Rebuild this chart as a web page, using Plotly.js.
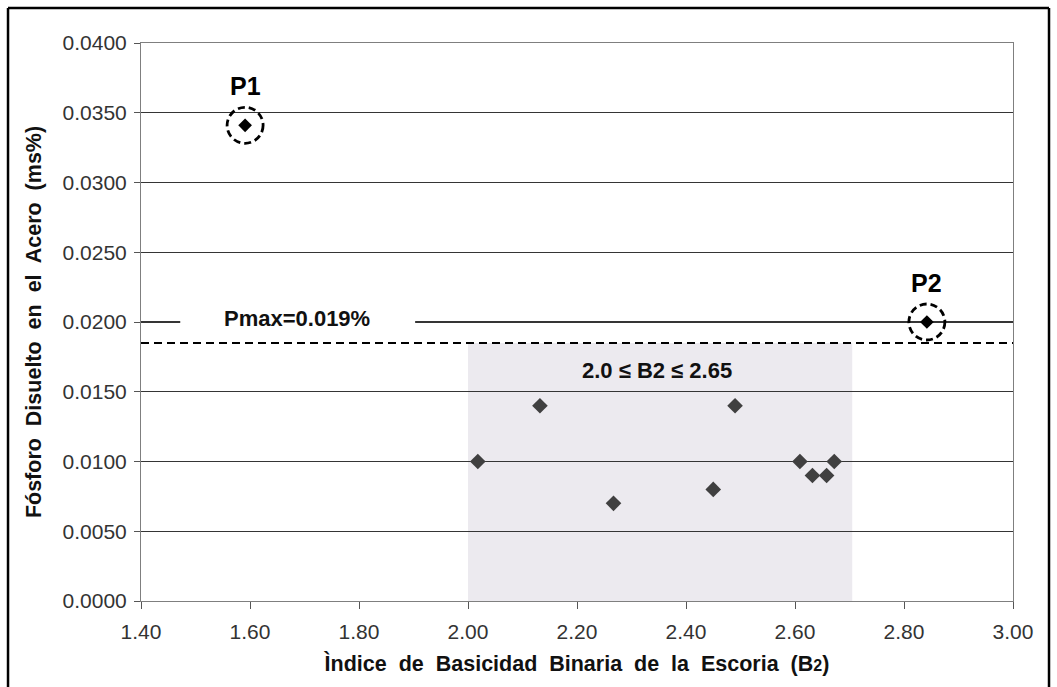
<!DOCTYPE html>
<html><head><meta charset="utf-8">
<script src="https://cdn.plot.ly/plotly-3.0.1.min.js"></script>
<style>html,body{margin:0;padding:0;background:#fff;}#chart{width:1057px;height:687px;}</style>
</head><body><div id="chart"></div>
<script>
// Data
const basicity = [2.018, 2.132, 2.267, 2.450, 2.490, 2.609, 2.632, 2.658, 2.672];
const phosphorus = [0.0100, 0.0140, 0.0070, 0.0080, 0.0140, 0.0100, 0.0090, 0.0090, 0.0100];
const outlierNames = ["P1", "P2"];
const outlierX = [1.591, 2.842];
const outlierY = [0.0341, 0.0200];
const pmax = 0.0185;
const pmaxLabel = "Pmax=0.019%";
const rangeLow = 2.0, rangeHigh = 2.705;
const rangeLabel = "2.0 ≤ B2 ≤ 2.65";
const xTicks = [1.4, 1.6, 1.8, 2.0, 2.2, 2.4, 2.6, 2.8, 3.0];
const yTicks = [0, 0.005, 0.01, 0.015, 0.02, 0.025, 0.03, 0.035, 0.04];

const font = "Liberation Sans, Arial, sans-serif";

const traces = [
  {x: basicity, y: phosphorus, type: 'scatter', mode: 'markers',
   marker: {symbol: 'diamond', size: 12, color: '#404040'}, hoverinfo: 'x+y'},
  {x: outlierX, y: outlierY, type: 'scatter', mode: 'markers',
   marker: {symbol: 'diamond', size: 10.5, color: '#000'}, hoverinfo: 'x+y'}
];

const shapes = [
  {type: 'rect', xref: 'x', yref: 'y', x0: rangeLow, x1: rangeHigh, y0: 0, y1: pmax,
   fillcolor: '#eceaef', line: {width: 0}, layer: 'below'},
  {type: 'line', xref: 'paper', yref: 'y', x0: 0, x1: 1, y0: pmax, y1: pmax,
   line: {color: '#000', width: 2, dash: '8px,5px'}},
  {type: 'rect', xref: 'x', yref: 'y', x0: 1.472, x1: 1.903, y0: 0.0193, y1: 0.0207,
   fillcolor: '#fff', line: {width: 0}, layer: 'above'}
];
outlierX.forEach((x, i) => {
  shapes.push({type: 'circle', xref: 'x', yref: 'y', xsizemode: 'pixel', ysizemode: 'pixel',
    xanchor: x, yanchor: outlierY[i], x0: -18, x1: 18, y0: -18, y1: 18,
    line: {color: '#000', width: 2.8, dash: '7px,4px'}});
});
// outer frame (left, top, right)
shapes.push({type: 'line', xref: 'paper', yref: 'paper', x0: -0.1525, x1: -0.1525, y0: -0.2, y1: 1.0627, line: {color: '#000', width: 2.5}});
shapes.push({type: 'line', xref: 'paper', yref: 'paper', x0: -0.1525, x1: 1.0413, y0: 1.0627, y1: 1.0627, line: {color: '#000', width: 2.5}});
shapes.push({type: 'line', xref: 'paper', yref: 'paper', x0: 1.0413, x1: 1.0413, y0: -0.2, y1: 1.0627, line: {color: '#000', width: 2.5}});

const annotations = [
  {x: 1.686, y: 0.0200, xref: 'x', yref: 'y', text: '<b>' + pmaxLabel + '</b>', showarrow: false,
   yshift: 4, font: {family: font, size: 22, color: '#111'}},
  {x: 2.347, y: 0.0167, xref: 'x', yref: 'y', text: '<b>' + rangeLabel + '</b>', showarrow: false,
   yshift: -2, font: {family: font, size: 22, color: '#111'}}
];
outlierNames.forEach((n, i) => {
  annotations.push({x: outlierX[i], y: outlierY[i], xref: 'x', yref: 'y', text: '<b>' + n + '</b>',
    showarrow: false, yshift: 39, font: {family: font, size: 25, color: '#000'}});
});

const layout = {
  width: 1057, height: 687,
  margin: {l: 141, r: 44, t: 43, b: 86},
  paper_bgcolor: '#fff', plot_bgcolor: '#fff',
  showlegend: false,
  font: {family: font, size: 21, color: '#222'},
  shapes: shapes,
  annotations: annotations,
  xaxis: {range: [1.4, 3.0], tickvals: xTicks, tickformat: '.2f', showgrid: false,
    zeroline: false, showline: true, linecolor: '#7f7f7f', linewidth: 1, mirror: true,
    ticks: 'outside', ticklen: 7, tickcolor: '#555', ticklabelstandoff: 5,
    tickfont: {family: font, size: 21, color: '#333'},
    title: {text: '<b>Ìndice  de  Basicidad  Binaria  de  la  Escoria  (B<span style="font-size:16px">2</span>)</b>',
      font: {family: font, size: 21.5, color: '#111'}, standoff: 13}},
  yaxis: {range: [0, 0.04], tickvals: yTicks, tickformat: '.4f', showgrid: true,
    gridcolor: '#353535', gridwidth: 1.3, zeroline: false, showline: true, linecolor: '#7f7f7f',
    linewidth: 1, mirror: true, ticks: 'outside', ticklen: 6, tickcolor: '#555', ticklabelstandoff: 3,
    tickfont: {family: font, size: 21, color: '#333'},
    title: {text: '<b>Fósforo  Disuelto  en  el  Acero  (ms%)</b>',
      font: {family: font, size: 21.5, color: '#111'}, standoff: 15}}
};

Plotly.newPlot('chart', traces, layout, {displayModeBar: false, staticPlot: true});
</script></body></html>
